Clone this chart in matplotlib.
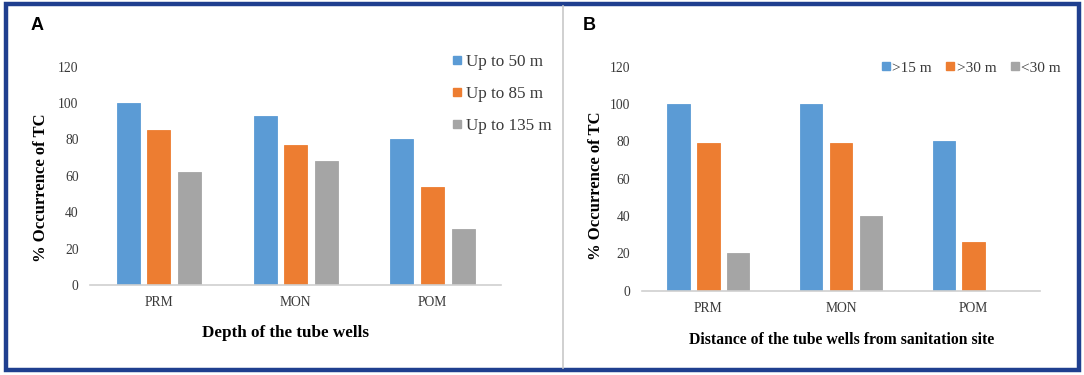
import numpy as np
import matplotlib
matplotlib.use("Agg")
import matplotlib.pyplot as plt
from matplotlib.patches import Rectangle
from matplotlib.lines import Line2D

# ── Data ──────────────────────────────────────────────────────────────────────
seasons = ["PRM", "MON", "POM"]

depth_labels = ["Up to 50 m", "Up to 85 m", "Up to 135 m"]
depth_50  = [100, 93, 80]
depth_85  = [85, 77, 54]
depth_135 = [62, 68, 31]

dist_labels = [">15 m", ">30 m", "<30 m"]
dist_15   = [100, 100, 80]
dist_30   = [79, 79, 26]
dist_lt30 = [20, 40, 0]

y_ticks = [0, 20, 40, 60, 80, 100, 120]

COLORS = ["#5B9BD5", "#ED7D31", "#A5A5A5"]
SERIF = ["Liberation Serif", "DejaVu Serif"]
SANS = ["Liberation Sans", "DejaVu Sans"]

W, H = 1084, 375
fig = plt.figure(figsize=(W / 100, H / 100), dpi=100)


def px_axes(left, right, bottom, top):
    """Axes box from pixel coords (origin top-left)."""
    return fig.add_axes([left / W, 1 - bottom / H, (right - left) / W, (bottom - top) / H])


def px_text(x, y, s, **kw):
    return fig.text(x / W, 1 - y / H, s, ha="center", va="center", **kw)


def bar_panel(ax, series, offset, width):
    x = np.arange(len(seasons))
    for i, vals in enumerate(series):
        ax.bar(x + (i - 1) * offset, vals, width, color=COLORS[i],
               edgecolor=COLORS[i], linewidth=0.6, zorder=2)
    ax.set_xlim(-0.5, len(seasons) - 0.5)
    ax.set_ylim(0, 120)
    ax.set_yticks(y_ticks)
    ax.set_xticks(x)
    ax.set_xticklabels(seasons)
    for s in ["top", "right", "left"]:
        ax.spines[s].set_visible(False)
    ax.spines["bottom"].set_color("#D0D0D0")
    ax.spines["bottom"].set_linewidth(1.2)
    ax.tick_params(length=0, labelsize=9.8, colors="#3A3A3A")
    ax.tick_params(axis="y", pad=8.5)
    ax.tick_params(axis="x", pad=8)
    for lab in ax.get_xticklabels() + ax.get_yticklabels():
        lab.set_family(SERIF)
    ax.set_facecolor("none")


# ── Panel A ───────────────────────────────────────────────────────────────────
axA = px_axes(90.4, 501, 285, 66.7)
bar_panel(axA, [depth_50, depth_85, depth_135], 0.224, 0.168)
px_text(41, 188, "% Occurrence of TC", family=SERIF, fontweight="bold",
        fontsize=12, rotation=90)
px_text(285.5, 333, "Depth of the tube wells", family=SERIF, fontweight="bold",
        fontsize=12.3)
handlesA = [Line2D([], [], marker="s", ls="", color=c, markersize=6) for c in COLORS]
axA.legend(handlesA, depth_labels, loc="upper left", bbox_to_anchor=(0.880, 1.056),
           frameon=False, prop={"family": SERIF, "size": 12.3},
           borderaxespad=0, borderpad=0,
           labelspacing=0.92, handlelength=0.6, handletextpad=0.25,
           labelcolor="#3A3A3A")

# ── Panel B ───────────────────────────────────────────────────────────────────
axB = px_axes(642, 1040, 290.7, 66.7)
bar_panel(axB, [dist_15, dist_30, dist_lt30], 0.225, 0.17)
px_text(596, 186, "% Occurrence of TC", family=SERIF, fontweight="bold",
        fontsize=12, rotation=90)
px_text(841.5, 340, "Distance of the tube wells from sanitation site", family=SERIF,
        fontweight="bold", fontsize=11.3)
handlesB = [Line2D([], [], marker="s", ls="", color=c, markersize=6) for c in COLORS]
axB.legend(handlesB, dist_labels, loc="center left", bbox_to_anchor=(0.601, 0.9955),
           ncol=3, frameon=False, prop={"family": SERIF, "size": 11},
           borderaxespad=0, borderpad=0,
           handlelength=0.6, handletextpad=0.1, columnspacing=0.94,
           labelcolor="#3A3A3A")

# ── Panel letters, divider, frame ─────────────────────────────────────────────
px_text(37, 25, "A", family=SANS, fontweight="bold", fontsize=13)
px_text(589, 25, "B", family=SANS, fontweight="bold", fontsize=13)
fig.add_artist(Line2D([563 / W, 563 / W], [1 - 6 / H, 1 - 368 / H],
                      color="#C8C8C8", lw=1.2, transform=fig.transFigure))
fig.add_artist(Rectangle((6 / W, 1 - 370 / H), (1079 - 6) / W, (370 - 4) / H,
                         transform=fig.transFigure, fill=False,
                         edgecolor="#1F3F8F", lw=3.2))

fig.savefig("out.png", dpi=100)
